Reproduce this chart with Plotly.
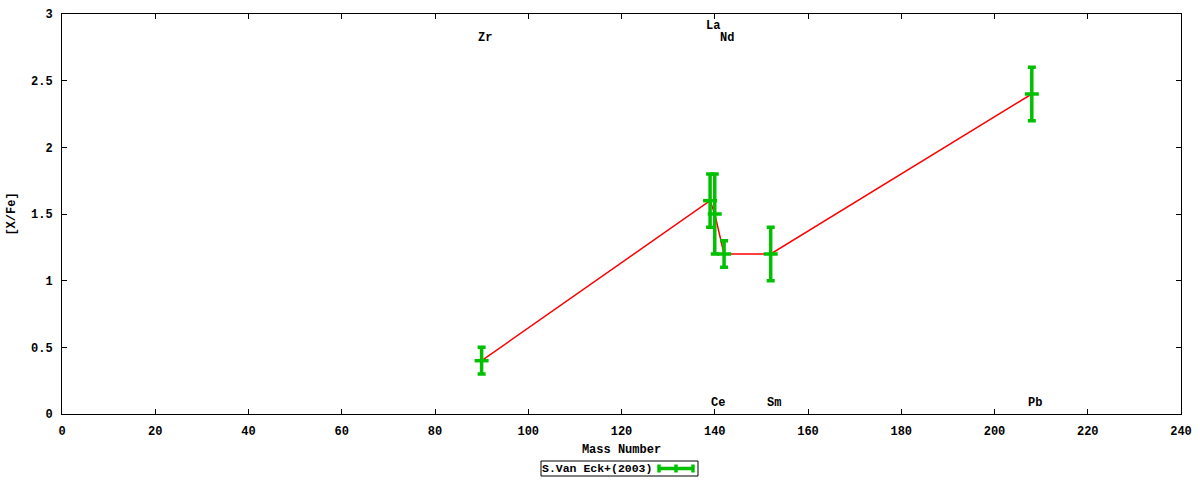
import plotly.graph_objects as go

# abundances [X/Fe] vs mass number, S.Van Eck+(2003)
element = ["Zr", "La", "Ce", "Nd", "Sm", "Pb"]
mass = [90, 139, 140, 142, 152, 208]
xfe = [0.4, 1.6, 1.5, 1.2, 1.2, 2.4]
err = [0.1, 0.2, 0.3, 0.1, 0.2, 0.2]
label_y = [2.82, 2.91, 0.08, 2.82, 0.08, 0.08]

green = "#00c000"
font = dict(family="Liberation Mono", size=12, color="black", weight="bold")

fig = go.Figure()

# red line joining the points
fig.add_trace(go.Scatter(x=mass, y=xfe, mode="lines",
                         line=dict(color="#ff0000", width=1.5),
                         showlegend=False, hoverinfo="skip"))

fig.add_trace(go.Scatter(
    x=mass, y=xfe, mode="markers", name="S.Van Eck+(2003)",
    marker=dict(symbol="line-ew", size=10, line=dict(color=green, width=3.5)),
    error_y=dict(type="data", array=err, color=green, thickness=3.5, width=4),
    showlegend=False))

for el, m, ly in zip(element, mass, label_y):
    fig.add_annotation(x=m, y=ly, text=el, showarrow=False, xshift=3,
                       font=font)

# legend box (text left, symbol right, like gnuplot)
px = lambda v: (v - 62) / 1119
py = lambda v: (414 - v) / 400
fig.add_shape(type="rect", xref="paper", yref="paper", x0=px(541), x1=px(698),
              y0=py(476), y1=py(461), line=dict(color="black", width=1))
fig.add_annotation(xref="paper", yref="paper", x=px(540), y=py(468.5),
                   xanchor="left", yanchor="middle", text="S.Van Eck+(2003)",
                   showarrow=False, font=dict(font, size=11.5))
yl = py(468.5)
dy = 4 / 400
fig.add_shape(type="line", xref="paper", yref="paper", x0=px(659), x1=px(693),
              y0=yl, y1=yl, line=dict(color=green, width=3.5))
for xx in (px(659), px(676), px(693)):
    fig.add_shape(type="line", xref="paper", yref="paper", x0=xx, x1=xx,
                  y0=yl - dy, y1=yl + dy, line=dict(color=green, width=3.5))

axis_common = dict(showline=True, linecolor="black", linewidth=1, mirror="ticks",
                   ticks="inside", ticklen=5, tickcolor="black", showgrid=False,
                   zeroline=False, tickfont=font)

fig.update_xaxes(range=[0, 240], dtick=20, title=dict(text="Mass Number", font=font, standoff=6),
                 ticklabelstandoff=6, **axis_common)
fig.update_yaxes(range=[0, 3], dtick=0.5, title=dict(text="[X/Fe]", font=font, standoff=12),
                 ticklabelstandoff=6, **axis_common)

fig.update_layout(width=1200, height=480, plot_bgcolor="white", paper_bgcolor="white",
                  margin=dict(l=62, r=19, t=14, b=66, autoexpand=False),
                  showlegend=False)

fig.write_html("out.html", config={"displayModeBar": False},
               post_script="document.body.style.margin='0px';")
